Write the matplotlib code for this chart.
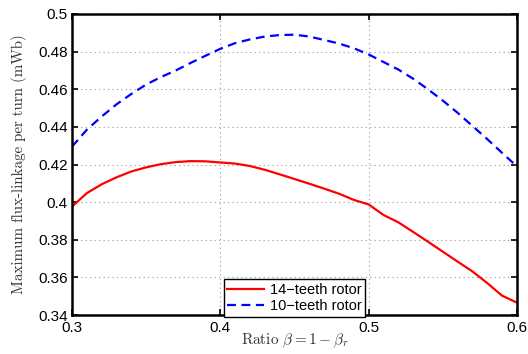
import matplotlib
matplotlib.use("Agg")
import matplotlib.pyplot as plt
import numpy as np

# ratio beta = 1 - beta_r
ratio = np.round(np.arange(0.30, 0.605, 0.01), 2)

# max flux-linkage per turn (mWb)
flux_14 = [0.3977, 0.4048, 0.4095, 0.4132, 0.4163, 0.4185, 0.4202, 0.4213,
           0.4218, 0.4217, 0.4211, 0.4205, 0.4192, 0.4172, 0.4148, 0.4123,
           0.4098, 0.4072, 0.4045, 0.4012, 0.3988, 0.3932, 0.3893, 0.3842,
           0.3790, 0.3737, 0.3684, 0.3632, 0.3570, 0.3503, 0.3466]
flux_10 = [0.4295, 0.4385, 0.4455, 0.4520, 0.4575, 0.4625, 0.4665, 0.4700,
           0.4740, 0.4778, 0.4815, 0.4845, 0.4865, 0.4880, 0.4888, 0.4890,
           0.4880, 0.4862, 0.4843, 0.4818, 0.4785, 0.4745, 0.4705, 0.4656,
           0.4600, 0.4540, 0.4475, 0.4405, 0.4335, 0.4262, 0.4190]

labels = ["14\u2212teeth rotor", "10\u2212teeth rotor"]
xticks = [0.3, 0.4, 0.5, 0.6]
yticks = [0.34, 0.36, 0.38, 0.40, 0.42, 0.44, 0.46, 0.48, 0.50]
ytick_labels = ["0.34", "0.36", "0.38", "0.4", "0.42", "0.44", "0.46", "0.48", "0.5"]

plt.rcParams['font.family'] = ['Liberation Sans', 'DejaVu Sans']
plt.rcParams['mathtext.fontset'] = 'cm'

fig = plt.figure(figsize=(5.28, 3.54), dpi=100)
ax = fig.add_axes([0.1364, 0.110, 0.979 - 0.1364, 0.9605 - 0.110])

ax.plot(ratio, flux_14, color='red', lw=1.6, label=labels[0])
ax.plot(ratio, flux_10, color='blue', lw=1.6, dashes=(4, 2.5), label=labels[1])

ax.set_xlim(0.3, 0.6)
ax.set_ylim(0.34, 0.5)
ax.set_xticks(xticks)
ax.set_xticklabels([f"{t:g}" for t in xticks])
ax.set_yticks(yticks)
ax.set_yticklabels(ytick_labels)
ax.tick_params(direction='in', length=4, width=1.2, labelsize=11,
               top=True, right=True, pad=3)
ax.tick_params(axis='x', pad=4)
ax.grid(True, linestyle=(0, (1, 3)), color='#999999', linewidth=0.8)
for s in ax.spines.values():
    s.set_linewidth(1.8)

ax.set_xlabel(r'Ratio $\beta = 1 - \beta_r$', fontfamily='cmr10',
              fontsize=11, color='#333333', labelpad=-2)
ax.set_ylabel('Maximum flux-linkage per turn (mWb)', fontfamily='cmr10',
              fontsize=10.8, color='#333333', labelpad=8)

leg = ax.legend(loc='lower center', bbox_to_anchor=(0.5, -0.005), fancybox=False,
                edgecolor='black', fontsize=10.5, handlelength=2.5,
                borderpad=0.25, labelspacing=0.15, handletextpad=0.4,
                borderaxespad=0)
leg.get_frame().set_linewidth(1.0)
leg.get_frame().set_alpha(1)

fig.savefig('out.png', dpi=100)
